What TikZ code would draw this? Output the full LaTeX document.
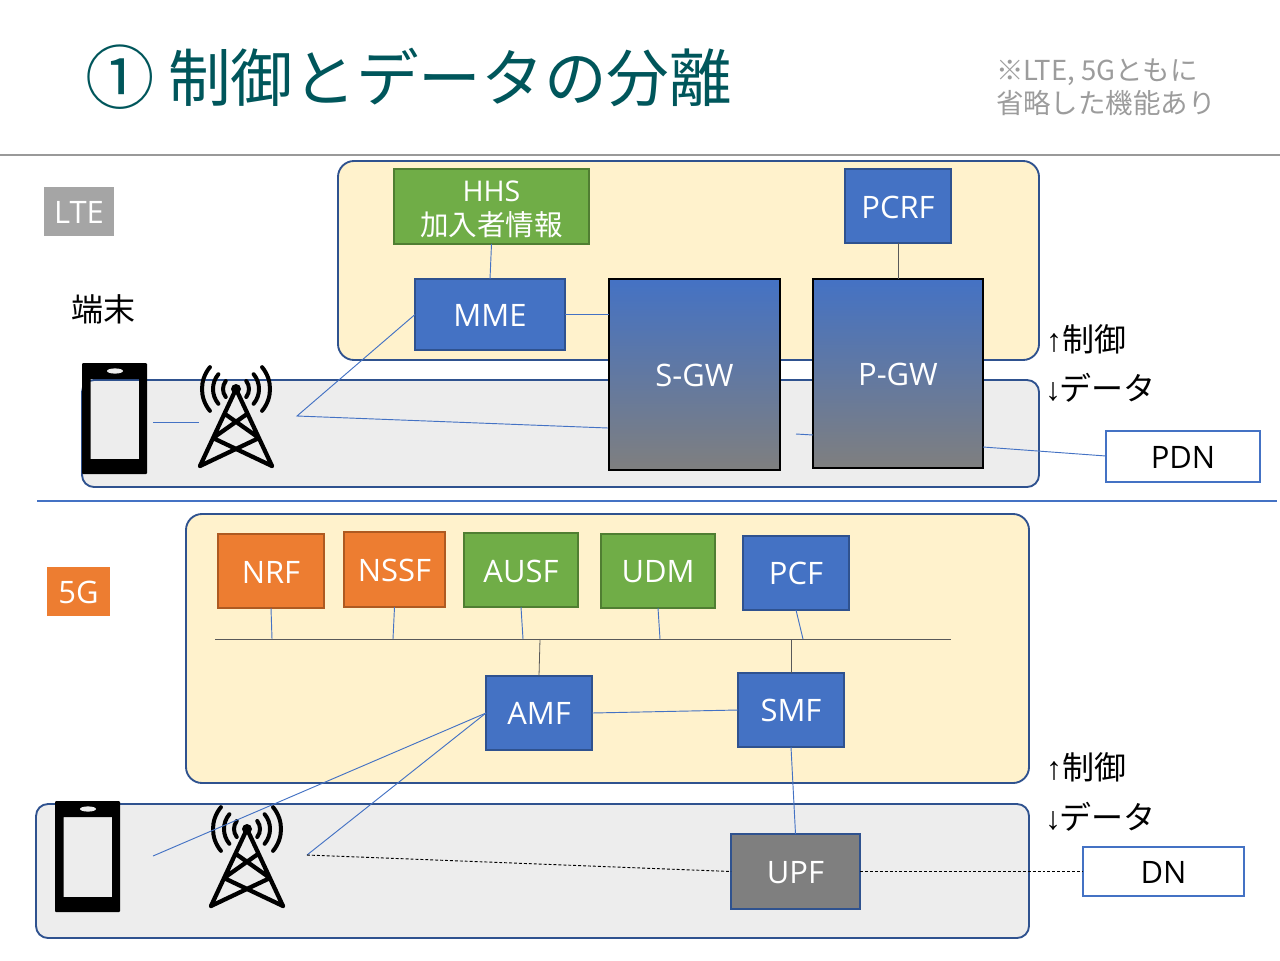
\documentclass[tikz,border=0pt]{standalone}
\usepackage{fontspec}
\setmainfont{Open Sans}
\newfontfamily\cjk{Noto Sans CJK JP}
\newfontfamily\arrowf{Liberation Sans}
\definecolor{cblue}{HTML}{4472C4}
\definecolor{bblue}{HTML}{2F528F}
\definecolor{cgreen}{HTML}{70AD47}
\definecolor{bgreen}{HTML}{507E32}
\definecolor{corange}{HTML}{ED7D31}
\definecolor{borange}{HTML}{AE5A21}
\definecolor{cgray}{HTML}{7F7F7F}
\definecolor{cyellow}{HTML}{FFF2CC}
\definecolor{cpanel}{HTML}{EDEDED}
\definecolor{cteal}{HTML}{00565B}
\definecolor{clabel}{HTML}{A5A5A5}
\definecolor{cnote}{HTML}{9C9C9C}
\tikzset{
  x=0.75pt,y=-0.75pt,
  every node/.style={inner sep=0pt,outer sep=0pt,align=center},
  boxtext/.style={text=white,font=\fontsize{23.2}{25.5}\selectfont},
  bluebox/.style={boxtext,fill=cblue,draw=bblue,line width=1.1pt},
  greenbox/.style={boxtext,fill=cgreen,draw=bgreen,line width=1.1pt},
  orangebox/.style={boxtext,fill=corange,draw=borange,line width=1.1pt},
  graybox/.style={boxtext,fill=cgray,draw=bblue,line width=1.1pt},
  gradbox/.style={boxtext,top color=cblue,bottom color=cgray,draw=black,line width=1.5pt},
  whitebox/.style={text=black,fill=white,draw=cblue,line width=0.8pt,font=\fontsize{23.2}{25.5}\selectfont},
  tagbox/.style={boxtext},
  yellowpanel/.style={fill=cyellow,draw=bblue,line width=1.4pt,rounded corners=12pt},
  graypanel/.style={fill=cpanel,draw=bblue,line width=1.4pt,rounded corners=9pt},
  link/.style={draw=cblue,line width=0.7pt},
  thinblack/.style={draw=black!65,line width=0.6pt},
  dotlink/.style={draw=black,line width=0.7pt,dash pattern=on 2.2pt off 1.5pt},
  sidetext/.style={anchor=west,text=black,font=\cjk\fontsize{24}{28}\selectfont},
}
\newcommand{\tl}[1]{\raisebox{-0.8pt}[\height][\depth]{#1}}
\newcommand{\bx}[7]{%
  \pgfmathsetmacro{\cxv}{(#3+#5)/2}\pgfmathsetmacro{\cyv}{(#4+#6)/2}%
  \pgfmathsetmacro{\wv}{(#5-#3)*0.75}\pgfmathsetmacro{\hv}{(#6-#4)*0.75}%
  \node[#2,minimum width=\wv pt,minimum height=\hv pt] (#1) at (\cxv,\cyv) {#7};}
\newcommand{\phoneicon}[2]{%
  \begin{scope}[shift={(#1,#2)}]
    \fill[black,even odd rule] (1,0) -- (64,0) -- (65,1) -- (65,110) -- (64,111) -- (1,111) -- (0,110) -- (0,1) -- cycle
      (8.5,16) -- (57,16) -- (57,96) -- (8.5,96) -- cycle;
    \fill[cpanel] (33,8) ellipse [x radius=8,y radius=2.6];
  \end{scope}}
\newcommand{\towericon}[2]{%
  \begin{scope}[shift={(#1,#2)}]
    \fill[black] (0,0) circle [radius=5];
    \draw[black,line width=3.2pt,line cap=round,line join=round]
      (-36,77) -- (0,0) -- (36,77)
      (-36,77) -- (23,49) -- (-11,25)
      (36,77) -- (-23,49) -- (11,25);
    \foreach \r/\a in {13/38,23/40,34/40}{
      \draw[black,line width=3pt,line cap=round] (\a:\r) arc [start angle=\a,end angle=-\a,radius=\r];
      \draw[black,line width=3pt,line cap=round] (180-\a:\r) arc [start angle=180-\a,end angle=180+\a,radius=\r];
    }
  \end{scope}}
\begin{document}
\begin{tikzpicture}
\useasboundingbox (0,0) rectangle (1280,960);
\fill[white] (0,0) rectangle (1280,960);
% title
\node[text=cteal,font=\cjk\fontsize{52}{54}\selectfont] (num) at (120,77) {①};
\node[anchor=west,text=cteal,font=\cjk\fontsize{47}{50}\selectfont] (title) at (168,77) {制御とデータの分離};
\node[anchor=west,text=cnote,align=left,font=\cjk\fontsize{20.6}{24.8}\selectfont] (note) at (996,87) {※LTE, 5Gともに\\省略した機能あり};
\coordinate (ruleL) at (0,155); \coordinate (ruleR) at (1280,155);
\draw[draw=black!40,line width=0.8pt] (ruleL) -- (ruleR);
\coordinate (sepL) at (37,501); \coordinate (sepR) at (1277,501);
\draw[draw=cblue,line width=2pt] (sepL) -- (sepR);
% panels
\draw[yellowpanel] (338,161) rectangle (1039,360);
\draw[graypanel] (82,380) rectangle (1039,487);
\draw[yellowpanel] (186,514) rectangle (1029,783);
\draw[graypanel] (36,804) rectangle (1029,938);
% tags and side labels
\bx{lte}{tagbox,fill=clabel}{44}{187}{114}{236}{\tl{LTE}}
\bx{fiveg}{tagbox,fill=corange}{47}{567}{110}{616}{\tl{5G}}
\node[sidetext] (term) at (71,309) {端末};
\node[sidetext] (ctl1) at (1046,339) {{\arrowf ↑}制御};
\node[sidetext] (dat1) at (1045,388) {{\arrowf ↓}\kern-1.5pt データ};
\node[sidetext] (ctl2) at (1046,767) {{\arrowf ↑}制御};
\node[sidetext] (dat2) at (1045,817) {{\arrowf ↓}\kern-1.5pt データ};
% LTE boxes
\bx{hhs}{greenbox,font=\fontsize{21.4}{25.5}\selectfont}{394}{169}{589}{244}{\raisebox{-2pt}[\height][\depth]{HHS}\\\raisebox{-2pt}[\height][\depth]{\cjk 加入者情報}}
\bx{pcrf}{bluebox}{845}{169}{951}{243}{\tl{PCRF}}
\bx{mme}{bluebox}{415}{279}{565}{350}{\tl{MME}}
\bx{sgw}{gradbox}{609}{279}{780}{470}{\tl{S-GW}}
\bx{pgw}{gradbox}{813}{279}{983}{468}{\tl{P-GW}}
\bx{pdn}{whitebox}{1106}{431}{1260}{482}{\tl{PDN}}
% 5G boxes
\bx{nrf}{orangebox}{218}{534}{324}{608}{\tl{NRF}}
\bx{nssf}{orangebox}{344}{532}{445}{607}{\tl{NSSF}}
\bx{ausf}{greenbox}{464}{533}{578}{607}{\tl{AUSF}}
\bx{udm}{greenbox}{601}{534}{715}{608}{\tl{UDM}}
\bx{pcf}{bluebox}{743}{536}{849}{610}{PCF}
\bx{amf}{bluebox}{486}{676}{592}{750}{AMF}
\bx{smf}{bluebox}{738}{673}{844}{747}{SMF}
\bx{upf}{graybox}{731}{834}{860}{909}{\tl{UPF}}
\bx{dn}{whitebox}{1083}{847}{1244}{896}{\tl{DN}}
% coordinates
\coordinate (phA) at (153,422); \coordinate (twA) at (199,422);
\coordinate (twAr) at (297,416); \coordinate (sgwIn) at (608,428);
\coordinate (pgwStub) at (796,434); \coordinate (pgwIn) at (813,435);
\coordinate (pgwOut) at (983,447); \coordinate (pdnIn) at (1106,456);
\coordinate (busL) at (215,639); \coordinate (busR) at (951,639);
\coordinate (b1) at (272,639); \coordinate (b2) at (393,639);
\coordinate (b3) at (523,639); \coordinate (b4) at (660,639);
\coordinate (b5) at (803,639); \coordinate (b6) at (540,639);
\coordinate (b7) at (791,639);
\coordinate (phB) at (153,856); \coordinate (twB) at (307,855);
% LTE connectors
\draw[link] (hhs.south) -- (mme.north);
\draw[link] (mme.east) -- (sgw.west |- mme.east);
\draw[thinblack] (pcrf.south) -- (pgw.north);
\draw[link] (mme.west) -- (twAr) -- (sgwIn);
\draw[link] (pgwStub) -- (pgwIn);
\draw[link] (pgwOut) -- (pdnIn);
\draw[link] (phA) -- (twA);
% 5G connectors
\draw[thinblack] (busL) -- (busR);
\draw[link] (nrf.south) -- (b1);
\draw[link] (nssf.south) -- (b2);
\draw[link] (ausf.south) -- (b3);
\draw[link] (udm.south) -- (b4);
\draw[link] (pcf.south) -- (b5);
\draw[thinblack] (amf.north) -- (b6);
\draw[thinblack] (smf.north) -- (b7);
\draw[link] (amf.east) -- (smf.west);
\draw[link] (smf.south) -- (upf.north);
% icons
\phoneicon{82}{363}
\towericon{236}{389}
\phoneicon{55}{801}
\towericon{247}{829}
\draw[link] (amf.west) -- (phB);
\draw[link] (amf.west) -- (twB);
\draw[dotlink] (twB) -- (upf.west);
\draw[dotlink] (upf.east) -- (dn.west);
\end{tikzpicture}
\end{document}
